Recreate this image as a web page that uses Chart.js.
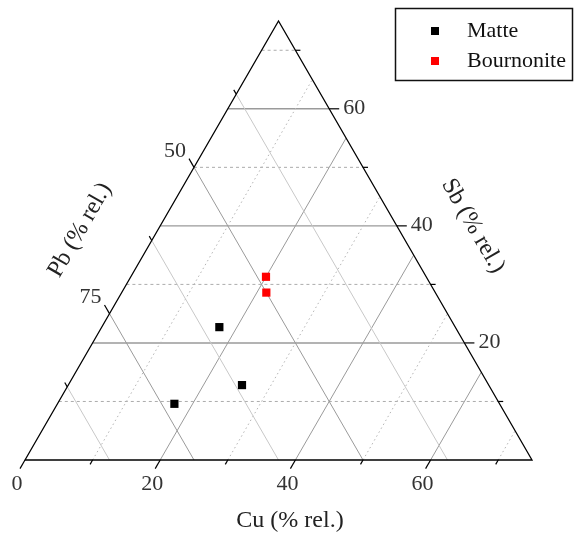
<!DOCTYPE html>
<html>
<head>
<meta charset="utf-8">
<script src="https://cdn.jsdelivr.net/npm/chart.js@4.4.1/dist/chart.umd.min.js"></script>
<style>
  body { margin: 0; background: #fff; }
  canvas { display: block; }
</style>
</head>
<body>
<canvas id="chart" width="574" height="537"></canvas>
<script>
const seriesNames = ['Matte', 'Bournonite'];
const seriesColors = ['#000000', '#ff0000'];

// ternary values, % rel. (Pb = 100 - Cu - Sb)
const cuMatte = [17.4, 25.7, 17.3];
const sbMatte = [22.7, 12.8, 9.6];
const pbMatte = [59.9, 61.5, 73.1];
const cuBournonite = [20.0, 21.4];
const sbBournonite = [31.3, 28.6];
const pbBournonite = [48.7, 50.0];

const cuTicks = [0, 20, 40, 60];
const sbTicks = [20, 40, 60];
const pbTicks = [50, 75];

const SPAN = 75;               // zoomed triangle: Cu 0-75, Sb 0-75, Pb 25-100
const H = Math.sqrt(3) / 2;
const FONT = "'Liberation Serif', serif";

function tern(cu, sb) {
    return { x: cu + sb / 2, y: sb * H };
}

function toPoints(cu, sb) {
    return cu.map((c, i) => tern(c, sb[i]));
}

function px(chart, cu, sb) {
    const p = tern(cu, sb);
    return { x: chart.scales.x.getPixelForValue(p.x), y: chart.scales.y.getPixelForValue(p.y) };
}

function seg(ctx, a, b) {
    ctx.beginPath();
    ctx.moveTo(a.x, a.y);
    ctx.lineTo(b.x, b.y);
    ctx.stroke();
}

const ternaryGrid = {
    id: 'ternaryGrid',
    beforeDatasetsDraw(chart) {
        const ctx = chart.ctx;
        ctx.save();
        ctx.lineWidth = 1;

        // Sb = const (horizontal)
        for (let s = 10; s < SPAN; s += 10) {
            const major = s % 20 === 0;
            ctx.strokeStyle = major ? '#9a9a9a' : '#acacac';
            ctx.lineWidth = major ? 1.4 : 1;
            ctx.setLineDash(major ? [] : [3, 3]);
            seg(ctx, px(chart, 0, s), px(chart, SPAN - s, s));
        }
        // Cu = const
        for (let c = 10; c < SPAN; c += 10) {
            const major = c % 20 === 0;
            ctx.strokeStyle = major ? '#9a9a9a' : '#b4b4b4';
            ctx.lineWidth = 1;
            ctx.setLineDash(major ? [] : [1.5, 3]);
            seg(ctx, px(chart, c, 0), px(chart, c, SPAN - c));
        }
        // Pb = const
        ctx.setLineDash([]);
        for (let p = 37.5; p < 100; p += 12.5) {
            const major = p % 25 === 0;
            ctx.strokeStyle = major ? '#9a9a9a' : '#c8c8c8';
            const k = 100 - p;
            seg(ctx, px(chart, k, 0), px(chart, 0, k));
        }

        // outline
        ctx.strokeStyle = '#000';
        ctx.lineWidth = 1.3;
        const a = px(chart, 0, 0), b = px(chart, SPAN, 0), c = px(chart, 0, SPAN);
        ctx.beginPath();
        ctx.moveTo(a.x, a.y);
        ctx.lineTo(b.x, b.y);
        ctx.lineTo(c.x, c.y);
        ctx.closePath();
        ctx.stroke();

        // ticks
        ctx.lineWidth = 1.2;
        for (let cu = 0; cu < SPAN; cu += 10) {
            const len = cu % 20 === 0 ? 10 : 5;
            const o = px(chart, cu, 0);
            seg(ctx, o, { x: o.x - 0.5 * len, y: o.y + H * len });
        }
        for (let s = 10; s < SPAN; s += 10) {
            const len = s % 20 === 0 ? 10 : 5;
            const o = px(chart, SPAN - s, s);
            seg(ctx, o, { x: o.x + len, y: o.y });
        }
        for (let p = 37.5; p < 100; p += 12.5) {
            const len = p % 25 === 0 ? 10 : 5;
            const o = px(chart, 0, 100 - p);
            seg(ctx, o, { x: o.x - 0.5 * len, y: o.y - H * len });
        }

        // tick labels
        ctx.fillStyle = '#333';
        ctx.font = `22px ${FONT}`;
        ctx.textAlign = 'center';
        ctx.textBaseline = 'middle';
        cuTicks.forEach(v => {
            const o = px(chart, v, 0);
            ctx.fillText(String(v), o.x - 8, o.y + 24);
        });
        pbTicks.forEach(v => {
            const o = px(chart, 0, 100 - v);
            ctx.fillText(String(v), o.x - 19, o.y - 16);
        });
        ctx.textAlign = 'left';
        sbTicks.forEach(v => {
            const o = px(chart, SPAN - v, v);
            ctx.fillText(String(v), o.x + 14, o.y - 1);
        });

        // axis titles
        ctx.fillStyle = '#222';
        ctx.font = `24px ${FONT}`;
        ctx.textAlign = 'center';
        ctx.fillText('Cu (% rel.)', 290, 521);

        ctx.save();
        ctx.translate(80, 230);
        ctx.rotate(-Math.PI / 3);
        ctx.fillText('Pb (% rel.)', 0, 0);
        ctx.restore();

        ctx.save();
        ctx.translate(473, 226);
        ctx.rotate(Math.PI / 3);
        ctx.fillText('Sb (% rel.)', 0, 0);
        ctx.restore();

        ctx.restore();
    }
};

const boxLegend = {
    id: 'boxLegend',
    afterDraw(chart) {
        const ctx = chart.ctx;
        ctx.save();
        ctx.strokeStyle = '#111';
        ctx.lineWidth = 1.5;
        ctx.strokeRect(395.5, 8.5, 177, 72);
        ctx.font = `22px ${FONT}`;
        ctx.textAlign = 'left';
        ctx.textBaseline = 'middle';
        chart.data.datasets.forEach((ds, i) => {
            const y = 31 + i * 30;
            ctx.fillStyle = ds.backgroundColor;
            ctx.fillRect(431, y - 4, 8, 8);
            ctx.fillStyle = '#111';
            ctx.fillText(ds.label, 467, y);
        });
        ctx.restore();
    }
};

new Chart(document.getElementById('chart').getContext('2d'), {
    type: 'scatter',
    data: {
        datasets: [{
            label: seriesNames[0],
            data: toPoints(cuMatte, sbMatte),
            backgroundColor: seriesColors[0],
            pointStyle: 'rect',
            pointRadius: 5.8,
            borderWidth: 0
        }, {
            label: seriesNames[1],
            data: toPoints(cuBournonite, sbBournonite),
            backgroundColor: seriesColors[1],
            pointStyle: 'rect',
            pointRadius: 5.8,
            borderWidth: 0
        }]
    },
    options: {
        responsive: false,
        animation: false,
        events: [],
        layout: {
            padding: { left: 25, right: 42, top: 21, bottom: 77 }
        },
        scales: {
            x: { type: 'linear', min: 0, max: SPAN, display: false },
            y: { type: 'linear', min: 0, max: SPAN * H, display: false }
        },
        plugins: {
            legend: { display: false },
            tooltip: { enabled: false }
        }
    },
    plugins: [ternaryGrid, boxLegend]
});
</script>
</body>
</html>
